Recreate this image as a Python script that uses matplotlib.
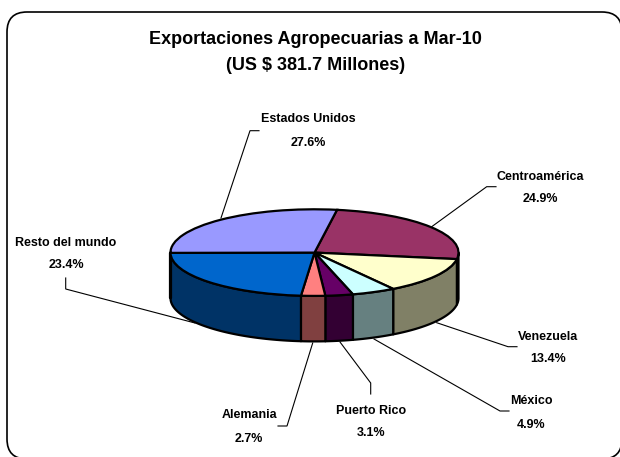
# Exportaciones agropecuarias, 3D style pie
import numpy as np
import matplotlib
matplotlib.use("Agg")
import matplotlib.pyplot as plt
from matplotlib.patches import FancyBboxPatch

plt.rcParams["font.family"] = ["Liberation Sans", "DejaVu Sans"]

categories = ["Centroamérica", "Venezuela", "México", "Puerto Rico", "Alemania", "Resto del mundo", "Estados Unidos"]
values = [24.9, 13.4, 4.9, 3.1, 2.7, 23.4, 27.6]
top_colors = ["#993366", "#FFFFCC", "#CCFFFF", "#660066", "#FF8080", "#0066CC", "#9999FF"]
side_colors = ["#4D1A33", "#808066", "#668080", "#330033", "#804040", "#003366", "#4D4D80"]
title_lines = ["Exportaciones Agropecuarias a Mar-10", "(US $ 381.7 Millones)"]

W, H = 620, 457
CX, CY, RX, RY = 314.5, 252.6, 144.0, 43.3
DEPTH = 45.5 / RY
START = 81.0
LABEL_SIZE = 9.0

fig = plt.figure(figsize=(W / 100, H / 100), dpi=100, facecolor="white")

# overlay in pixel coords for frame, leaders, text
bg = fig.add_axes([0, 0, 1, 1])
bg.set_xlim(0, W)
bg.set_ylim(H, 0)
bg.axis("off")
bg.add_patch(FancyBboxPatch((7 + 20, 12 + 20), 615 - 40, 447 - 40,
                            boxstyle="round,pad=20,rounding_size=20",
                            fc="white", ec="black", lw=1.2, clip_on=False))

leaders = {
    "Estados Unidos": ([221, 250, 259], [218, 130.7, 130.7]),
    "Centroamérica": ([431.7, 486.7, 496], [226.7, 186.7, 186.7]),
    "Venezuela": ([436.7, 508, 517], [322.7, 346.7, 346.7]),
    "México": ([374, 500, 509], [339, 411, 411]),
    "Puerto Rico": ([340, 370.7, 370.7], [342, 383, 394]),
    "Alemania": ([312.7, 287, 278], [343, 426, 426]),
    "Resto del mundo": ([195, 65.7, 65.7], [323, 289, 278]),
}
label_pos = {
    "Estados Unidos": (308, 119.5, 143.5),
    "Centroamérica": (540, 176.5, 199.5),
    "Venezuela": (548, 336.5, 359.5),
    "México": (531, 401.5, 424.5),
    "Puerto Rico": (371, 410.5, 433.5),
    "Alemania": (249, 415.5, 438.5),
    "Resto del mundo": (66, 243.5, 265.5),
}
for name, val in zip(categories, values):
    xs, ys = leaders[name]
    bg.plot(xs, ys, color="black", lw=0.8, solid_joinstyle="miter")
    x, y1, y2 = label_pos[name]
    bg.text(x, y1, name, ha="center", va="center", fontsize=LABEL_SIZE, fontweight="bold")
    bg.text(x, y2, f"{val:.1f}%", ha="center", va="center", fontsize=LABEL_SIZE, fontweight="bold")

bg.text(315.5, 40, title_lines[0], ha="center", va="center", fontsize=13, fontweight="bold")
bg.text(315.5, 66, title_lines[1], ha="center", va="center", fontsize=13, fontweight="bold")

# pie axes: unit circle stretched to the ellipse
ax = fig.add_axes([0, 0, 1, 1])
ax.patch.set_alpha(0)
ax.pie(values, colors=top_colors, startangle=START, counterclock=False, radius=1,
       wedgeprops=dict(edgecolor="black", linewidth=1.6, zorder=3))
ax.set_aspect("auto")
ax.set_xlim(-CX / RX, (W - CX) / RX)
ax.set_ylim((CY - H) / RY, CY / RY)
ax.axis("off")

# side wall, only the front half of the ellipse shows
ang = START
for val, col in zip(values, side_colors):
    a0, a1 = ang, ang - val * 3.6
    ang = a1
    lo, hi = max(a1, -180.0), min(a0, 0.0)
    if lo < hi:
        t = np.radians(np.linspace(hi, lo, 60))
        x = np.cos(t)
        y = np.sin(t)
        ax.fill(np.r_[x, x[::-1]], np.r_[y, y[::-1] - DEPTH], fc=col, ec="black",
                lw=1.6, zorder=2, joinstyle="round")

fig.savefig("out.png", dpi=100)
